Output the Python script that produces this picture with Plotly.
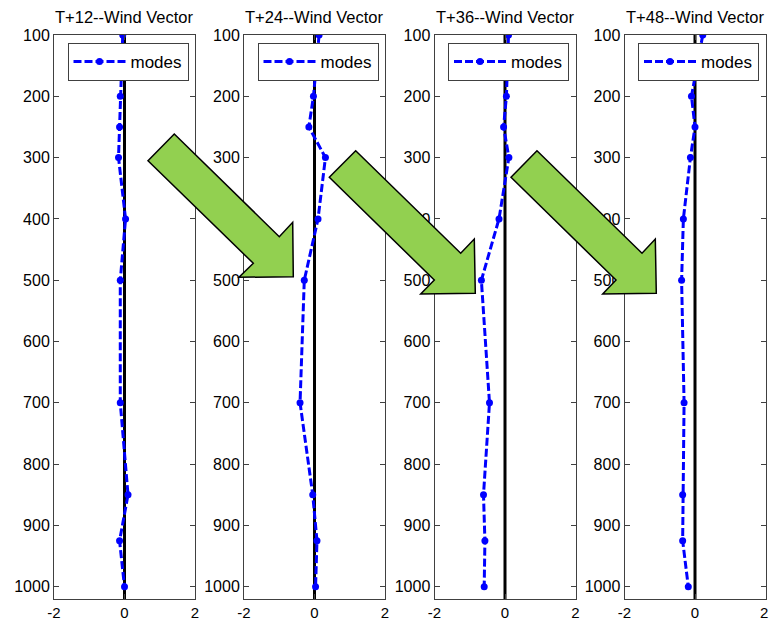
import plotly.graph_objects as go

# Pressure levels (hPa) and wind-vector differences for each forecast lead time
levels = [100, 200, 250, 300, 400, 500, 700, 850, 925, 1000]
panel_titles = ["T+12--Wind Vector", "T+24--Wind Vector",
                "T+36--Wind Vector", "T+48--Wind Vector"]
modes_t12 = [-0.05, -0.12, -0.14, -0.17, 0.03, -0.12, -0.12, 0.10, -0.14, 0.00]
modes_t24 = [0.13, -0.03, -0.16, 0.31, 0.10, -0.29, -0.41, -0.05, 0.07, 0.03]
modes_t36 = [0.10, 0.04, -0.04, 0.11, -0.17, -0.67, -0.44, -0.61, -0.57, -0.59]
modes_t48 = [0.22, -0.10, 0.00, -0.13, -0.33, -0.38, -0.31, -0.35, -0.35, -0.19]
series = [modes_t12, modes_t24, modes_t36, modes_t48]
x_ticks = [-2, 0, 2]
y_ticks = [100, 200, 300, 400, 500, 600, 700, 800, 900, 1000]
x_range = [-2, 2]
y_range = [1020, 100]

W, H = 770, 620
FONT = "Liberation Sans, Arial, sans-serif"

# panel placement in pixels
panel_left = [54, 244, 434.5, 624.5]
panel_w = 141
plot_top, plot_bottom = 35, 599
xlabel_y = 612


def px(x):
    return x / W


def py(y):
    return 1 - y / H


fig = go.Figure()
layout = dict(
    width=W, height=H,
    margin=dict(l=0, r=0, t=0, b=0, pad=0, autoexpand=False),
    paper_bgcolor="white", plot_bgcolor="white",
    font=dict(family=FONT, size=16, color="black"),
    showlegend=True,
)

annotations = []
for i, vals in enumerate(series):
    n = "" if i == 0 else str(i + 1)
    xa, ya = "x" + n, "y" + n
    leg = "legend" + n
    last = i == len(series) - 1

    # zero reference line
    fig.add_trace(go.Scatter(
        x=[0, 0], y=[y_range[1], y_range[0]], xaxis=xa, yaxis=ya,
        mode="lines", line=dict(color="black", width=3),
        showlegend=False, hoverinfo="skip"))

    fig.add_trace(go.Scatter(
        x=vals, y=levels, xaxis=xa, yaxis=ya, name="modes", legend=leg,
        mode="lines+markers",
        line=dict(color="#0000FF", width=3, dash="8px,3px"),
        marker=dict(color="#0000FF", size=7, symbol="circle")))

    # the rightmost panel's last tick label sits on the page edge and is
    # written as a paper annotation instead, so it is never dropped or doubled
    x_text = [str(v) for v in x_ticks]
    if last:
        x_text[-1] = ""

    left = panel_left[i]
    layout["xaxis" + n] = dict(
        domain=[px(left), px(left + panel_w)], anchor=ya,
        range=x_range, tickvals=x_ticks, ticktext=x_text,
        ticks="inside", ticklen=5,
        tickcolor="#404040", showline=True, linecolor="#404040", linewidth=1,
        mirror="ticks", showgrid=False, zeroline=False, automargin=False,
        tickfont=dict(size=15, family=FONT, color="black"), fixedrange=True)
    layout["yaxis" + n] = dict(
        domain=[py(plot_bottom), py(plot_top)], anchor=xa,
        range=y_range, tickvals=y_ticks, ticks="inside", ticklen=5,
        tickcolor="#404040", showline=True, linecolor="#404040", linewidth=1,
        mirror="ticks", showgrid=False, zeroline=False, automargin=False,
        tickfont=dict(size=16, family=FONT, color="black"), fixedrange=True)
    layout[leg] = dict(
        x=px(left + panel_w - 6.5), y=py(plot_top + 8),
        xanchor="right", yanchor="top",
        bgcolor="white", bordercolor="#404040", borderwidth=1,
        font=dict(size=17, family=FONT, color="black"),
        itemwidth=52, tracegroupgap=0)
    annotations.append(dict(
        text=panel_titles[i], xref="paper", yref="paper",
        x=px(left + panel_w / 2), y=py(17), xanchor="center", yanchor="middle",
        showarrow=False, font=dict(size=16.5, family=FONT, color="black")))
    if last:
        annotations.append(dict(
            text=str(x_ticks[-1]), xref="paper", yref="paper",
            x=px(left + panel_w + 4), y=py(xlabel_y),
            xanchor="right", yanchor="middle", showarrow=False,
            font=dict(size=15, family=FONT, color="black")))

# block arrows between consecutive panels (pixel outlines)
arrow_outlines = [
    [(174.3, 134), (148, 160.7), (253.3, 263.3), (239, 277.3),
     (293.3, 276.7), (292.7, 222.3), (279.3, 236.7)],
    [(355.7, 150.7), (329.3, 177.3), (434.3, 280), (420.7, 294),
     (475.3, 293.3), (474.3, 239), (460.7, 253.3)],
    [(537, 150.7), (511, 177.3), (616, 280), (602.7, 294),
     (656.3, 293.3), (655.3, 239), (642, 253.3)],
]
shapes = []
for pts in arrow_outlines:
    path = "M " + " L ".join(f"{px(x):.5f},{py(y):.5f}" for x, y in pts) + " Z"
    shapes.append(dict(type="path", path=path, xref="paper", yref="paper",
                       fillcolor="#92D050", line=dict(color="black", width=1.5),
                       layer="above"))

layout["annotations"] = annotations
layout["shapes"] = shapes
fig.update_layout(**layout)

fig.write_html("out.html", config={"displayModeBar": False})
